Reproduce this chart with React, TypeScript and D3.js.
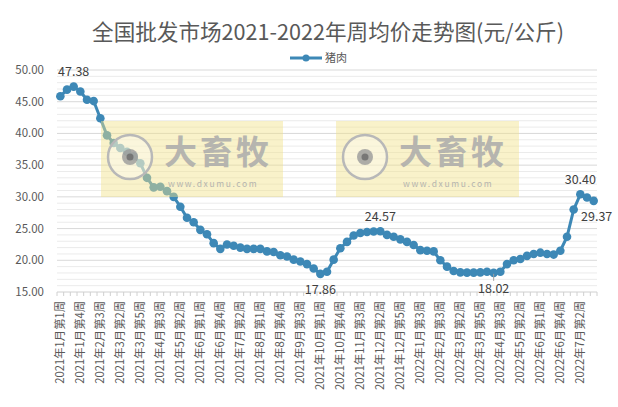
import React from "react";
import * as d3 from "d3";

const title = "全国批发市场2021-2022年周均价走势图(元/公斤)";
const seriesName = "猪肉";

const categories: string[] = [
  "2021年1月第1周", "2021年1月第2周", "2021年1月第3周", "2021年1月第4周",
  "2021年2月第1周", "2021年2月第2周", "2021年2月第3周", "2021年2月第4周",
  "2021年3月第1周", "2021年3月第2周", "2021年3月第3周", "2021年3月第4周", "2021年3月第5周",
  "2021年4月第1周", "2021年4月第2周", "2021年4月第3周", "2021年4月第4周",
  "2021年5月第1周", "2021年5月第2周", "2021年5月第3周", "2021年5月第4周",
  "2021年6月第1周", "2021年6月第2周", "2021年6月第3周", "2021年6月第4周", "2021年6月第5周",
  "2021年7月第1周", "2021年7月第2周", "2021年7月第3周", "2021年7月第4周",
  "2021年8月第1周", "2021年8月第2周", "2021年8月第3周", "2021年8月第4周",
  "2021年9月第1周", "2021年9月第2周", "2021年9月第3周", "2021年9月第4周", "2021年9月第5周",
  "2021年10月第1周", "2021年10月第2周", "2021年10月第3周", "2021年10月第4周",
  "2021年11月第1周", "2021年11月第2周", "2021年11月第3周", "2021年11月第4周",
  "2021年12月第1周", "2021年12月第2周", "2021年12月第3周", "2021年12月第4周", "2021年12月第5周",
  "2022年1月第1周", "2022年1月第2周", "2022年1月第3周", "2022年1月第4周",
  "2022年2月第2周", "2022年2月第3周", "2022年2月第4周",
  "2022年3月第1周", "2022年3月第2周", "2022年3月第3周", "2022年3月第4周", "2022年3月第5周",
  "2022年4月第1周", "2022年4月第2周", "2022年4月第3周", "2022年4月第4周",
  "2022年5月第1周", "2022年5月第2周", "2022年5月第3周", "2022年5月第4周",
  "2022年6月第1周", "2022年6月第2周", "2022年6月第3周", "2022年6月第4周", "2022年6月第5周",
  "2022年7月第1周", "2022年7月第2周", "2022年7月第3周", "2022年7月第4周",
];

const values: number[] = [
  45.85, 46.9, 47.38, 46.6, 45.3, 45.1, 42.4, 39.7, 38.5, 37.7,
  37.1, 36.4, 35.3, 33.0, 31.5, 31.6, 30.9, 30.0, 28.45, 26.7,
  26.0, 24.8, 24.1, 22.7, 21.8, 22.5, 22.3, 22.0, 21.8, 21.8,
  21.8, 21.4, 21.3, 20.8, 20.6, 20.1, 19.8, 19.4, 18.7, 17.86,
  18.2, 20.1, 21.9, 22.9, 23.9, 24.3, 24.45, 24.55, 24.57, 24.0,
  23.7, 23.3, 22.9, 22.4, 21.6, 21.5, 21.4, 20.0, 19.0, 18.3,
  18.1, 18.05, 18.05, 18.1, 18.2, 18.02, 18.2, 19.4, 20.0, 20.2,
  20.7, 21.0, 21.2, 21.0, 20.9, 21.5, 23.7, 28.0, 30.4, 29.9,
  29.37,
];

const yTicks: number[] = [15, 20, 25, 30, 35, 40, 45, 50];
const yMinor: number[] = d3.range(15, 51, 1);
// labeled points: index and position (above / below)
const labeledPoints: { i: number; pos: "above" | "below" }[] = [
  { i: 2, pos: "above" },
  { i: 39, pos: "below" },
  { i: 48, pos: "above" },
  { i: 65, pos: "below" },
  { i: 78, pos: "above" },
  { i: 80, pos: "below" },
];
const watermarkMain = "大畜牧";
const watermarkUrl = "www.dxumu.com";

const W = 618;
const H = 407;
const left = 57;
const right = 597;
const top = 70;
const bottom = 292;
const color = "#3D88B6";
const font = "'Noto Sans CJK SC', 'Noto Sans', sans-serif";

export default function App() {
  const x = d3
    .scaleBand<number>()
    .domain(d3.range(categories.length))
    .range([left, right])
    .paddingInner(0)
    .paddingOuter(0);
  const bw = x.bandwidth();
  const cx = (i: number) => (x(i) as number) + bw / 2;
  const y = d3.scaleLinear().domain([15, 50]).range([bottom, top]);

  const line = d3
    .line<number>()
    .x((_, i) => cx(i))
    .y((d) => y(d));

  const watermarks = [
    { x0: 101, x1: 283 },
    { x0: 336, x1: 519 },
  ];

  return (
    <svg
      width={W}
      height={H}
      style={{ position: "absolute", left: 0, top: 0, background: "#fff" }}
      fontFamily={font}
    >
      <rect x={0} y={0} width={W} height={H} fill="#fff" />
      {/* title */}
      <text x={328} y={40} textAnchor="middle" fontSize={21.6} fill="#595959">
        {title}
      </text>
      {/* legend */}
      <g>
        <line x1={290} x2={322} y1={58} y2={58} stroke={color} strokeWidth={3} />
        <circle cx={306} cy={58} r={3.5} fill={color} />
        <text x={325} y={62} fontSize={11} fill="#595959">
          {seriesName}
        </text>
      </g>
      {/* minor grid */}
      {yMinor
        .filter((v) => v % 5 !== 0)
        .map((v) => (
          <line key={"m" + v} x1={left} x2={right} y1={y(v)} y2={y(v)} stroke="#EBEBEB" strokeWidth={1} />
        ))}
      {/* major grid */}
      {yTicks.map((v) => (
        <line key={"g" + v} x1={left} x2={right} y1={y(v)} y2={y(v)} stroke={v === 15 ? "#D0D0D0" : "#D9D9D9"} strokeWidth={1} />
      ))}
      {/* y labels */}
      {yTicks.map((v) => (
        <text key={"yl" + v} x={44} y={y(v)} dy="0.35em" textAnchor="end" fontSize={11.5} fill="#595959">
          {d3.format(".2f")(v)}
        </text>
      ))}
      {/* x ticks */}
      {d3.range(categories.length + 1).map((i) => {
        const xx = left + i * bw;
        return <line key={"t" + i} x1={xx} x2={xx} y1={bottom} y2={bottom + 4} stroke="#D0D0D0" strokeWidth={1} />;
      })}
      {/* x labels */}
      {categories.map((c, i) =>
        i % 3 === 0 ? (
          <text
            key={"xl" + i}
            transform={`translate(${cx(i)},${bottom + 9}) rotate(-90)`}
            textAnchor="end"
            dy="0.35em"
            fontSize={11.3}
            fill="#595959"
          >
            {c}
          </text>
        ) : null
      )}
      {/* series */}
      <path d={line(values) || ""} fill="none" stroke={color} strokeWidth={3} strokeLinejoin="round" />
      {values.map((v, i) => (
        <circle key={"p" + i} cx={cx(i)} cy={y(v)} r={4.3} fill={color} />
      ))}
      {/* data labels */}
      {labeledPoints.map(({ i, pos }) => (
        <text
          key={"dl" + i}
          x={cx(i) + (i === 80 ? 3 : 0)}
          y={pos === "above" ? y(values[i]) - 15 : y(values[i]) + 16}
          dy="0.35em"
          textAnchor="middle"
          fontSize={12.5}
          fill="#404040"
        >
          {d3.format(".2f")(values[i])}
        </text>
      ))}
      <line x1={cx(65)} x2={cx(65)} y1={y(values[65]) + 1} y2={y(values[65]) + 8} stroke="#A0A0A0" strokeWidth={1} />
      {/* watermarks */}
      {watermarks.map((w, k) => (
        <g key={"wm" + k}>
          <rect x={w.x0} y={121} width={w.x1 - w.x0} height={76} fill="#F2E38A" opacity={0.45} />
          <circle cx={w.x0 + 29} cy={157} r={22} fill="#FFFFFF" fillOpacity={0.35} stroke="#B8B8B8" strokeWidth={2.5} />
          <circle cx={w.x0 + 29} cy={157} r={8} fill="#9A9A9A" opacity={0.8} />
          <circle cx={w.x0 + 29} cy={157} r={3.5} fill="#6A6A6A" opacity={0.8} />
          <text x={w.x0 + 63} y={164} fontSize={33} fontWeight="bold" fill="#ABABAB" opacity={0.85} letterSpacing={3}>
            {watermarkMain}
          </text>
          <text x={w.x0 + 67} y={187} fontSize={8.5} fill="#ABABAB" opacity={0.85} letterSpacing={1.6}>
            {watermarkUrl}
          </text>
        </g>
      ))}
    </svg>
  );
}
